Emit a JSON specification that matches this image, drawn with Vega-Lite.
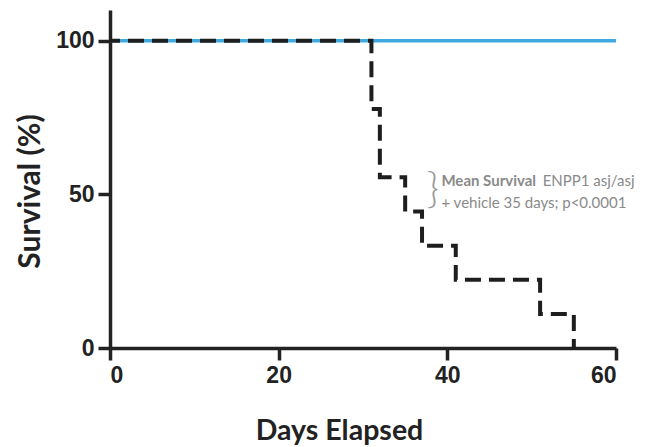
{
  "$schema": "https://vega.github.io/schema/vega-lite/v6.json",
  "width": 506,
  "height": 338,
  "autosize": {"type": "none"},
  "padding": {"left": 110, "top": 10, "right": 34, "bottom": 99},
  "background": "white",
  "config": {
    "view": {"stroke": null},
    "axis": {
      "grid": false,
      "domainColor": "#222",
      "domainWidth": 3.5,
      "tickColor": "#222",
      "tickWidth": 3.5,
      "tickSize": 12,
      "labelFont": "Liberation Sans",
      "labelFontWeight": "bold",
      "labelFontSize": 23,
      "labelColor": "#222",
      "titleFont": "Lato",
      "titleFontWeight": "bold",
      "titleColor": "#222"
    }
  },
  "layer": [
    {
      "data": {"values": [{"day": 0, "survival": 100}, {"day": 60, "survival": 100}]},
      "mark": {"type": "line", "color": "#3ea8e0", "strokeWidth": 3.5},
      "encoding": {
        "x": {"field": "day", "type": "quantitative", "scale": {"domain": [0, 60], "nice": false},
          "axis": {"values": [0, 20, 40, 60], "title": "Days Elapsed", "titleFontSize": 28.5, "labelPadding": 4, "titleX": 229, "titleY": 82, "titleAlign": "center", "titleBaseline": "middle"}},
        "y": {"field": "survival", "type": "quantitative", "scale": {"domain": [0, 110], "nice": false},
          "axis": {"values": [0, 50, 100], "title": "Survival (%)", "titleFontSize": 30, "labelPadding": 4, "titleX": -80, "titleY": 181, "titleAlign": "center", "titleBaseline": "middle"}}
      }
    },
    {
      "data": {"values": [
        {"day": 0, "survival": 100},
        {"day": 31, "survival": 77.8},
        {"day": 32, "survival": 55.6},
        {"day": 35, "survival": 44.4},
        {"day": 37, "survival": 33.3},
        {"day": 41, "survival": 22.2},
        {"day": 51, "survival": 11.1},
        {"day": 55, "survival": 0}
      ]},
      "mark": {"type": "line", "interpolate": "step-after", "color": "#1e1e1e", "strokeWidth": 4, "strokeDash": [16, 8], "strokeDashOffset": 6},
      "encoding": {
        "x": {"field": "day", "type": "quantitative"},
        "y": {"field": "survival", "type": "quantitative"}
      }
    },
    {
      "data": {"values": [{"day": 38.3, "survival": 51.3, "label": "}"}]},
      "mark": {"type": "text", "font": "Lato", "fontSize": 42, "fontWeight": 300, "color": "#999", "align": "center", "baseline": "middle"},
      "encoding": {
        "x": {"field": "day", "type": "quantitative"},
        "y": {"field": "survival", "type": "quantitative"},
        "text": {"field": "label"}
      }
    },
    {
      "data": {"values": [{"day": 39.3, "survival": 54.4, "label": "Mean Survival"}]},
      "mark": {"type": "text", "font": "Lato", "fontSize": 15, "fontWeight": "bold", "color": "#8a8a8a", "align": "left", "baseline": "middle"},
      "encoding": {
        "x": {"field": "day", "type": "quantitative"},
        "y": {"field": "survival", "type": "quantitative"},
        "text": {"field": "label"}
      }
    },
    {
      "data": {"values": [
        {"day": 51.3, "survival": 54.4, "label": "ENPP1 asj/asj"},
        {"day": 39.3, "survival": 47.2, "label": "+ vehicle 35 days; p<0.0001"}
      ]},
      "mark": {"type": "text", "font": "Lato", "fontSize": 15, "color": "#8a8a8a", "align": "left", "baseline": "middle"},
      "encoding": {
        "x": {"field": "day", "type": "quantitative"},
        "y": {"field": "survival", "type": "quantitative"},
        "text": {"field": "label"}
      }
    }
  ]
}
